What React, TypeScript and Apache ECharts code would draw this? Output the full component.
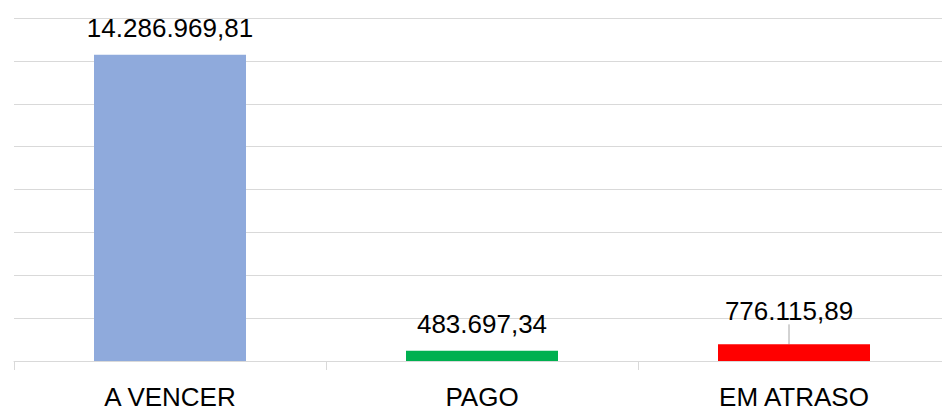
import React, { useEffect, useRef } from "react";
import * as echarts from "echarts";

const categories = ["A VENCER", "PAGO", "EM ATRASO"];
const values = [14286969.81, 483697.34, 776115.89];
const barColors = ["#8faadc", "#00b050", "#ff0000"];

function fmtBR(v: number): string {
  const [i, d] = v.toFixed(2).split(".");
  return i.replace(/\B(?=(\d{3})+(?!\d))/g, ".") + "," + d;
}

export default function App() {
  const ref = useRef<HTMLDivElement>(null);
  useEffect(() => {
    if (!ref.current) return;
    const chart = echarts.init(ref.current, null, { renderer: "svg" });
    chart.setOption({
      animation: false,
      grid: { left: 14, top: 18, width: 936, height: 343, containLabel: false },
      xAxis: {
        type: "category",
        data: categories,
        axisLine: { lineStyle: { color: "#d9d9d9", width: 1 } },
        axisTick: { show: true, length: 9, lineStyle: { color: "#d9d9d9" } },
        axisLabel: {
          color: "#000",
          fontSize: 26,
          lineHeight: 26,
          fontFamily: "Liberation Sans, Arial, sans-serif",
          margin: 23,
        },
      },
      yAxis: {
        type: "value",
        min: 0,
        max: 16000000,
        interval: 2000000,
        axisLabel: { show: false },
        axisLine: { show: false },
        axisTick: { show: false },
        splitLine: { lineStyle: { color: "#d9d9d9", width: 1 } },
      },
      series: [
        {
          type: "bar",
          barWidth: 152,
          data: values.map((v, i) => ({
            value: v,
            itemStyle: { color: barColors[i] },
            labelLine: i === 2 ? { show: true, lineStyle: { color: "#a6a6a6", width: 1 } } : { show: false },
          })),
          label: {
            show: true,
            position: "top",
            distance: 14,
            color: "#000",
            fontSize: 26,
            fontFamily: "Liberation Sans, Arial, sans-serif",
            formatter: (p: any) => fmtBR(p.value),
          },
          labelLayout: (p: any) => (p.dataIndex === 2 ? { dx: -5, dy: -6 } : {}),
        },
      ],
    });
    return () => chart.dispose();
  }, []);
  return (
    <div style={{ position: "fixed", left: 0, top: 0, width: 942, height: 412, overflow: "hidden", background: "#fff" }}>
      <div ref={ref} style={{ width: 960, height: 412 }} />
    </div>
  );
}
